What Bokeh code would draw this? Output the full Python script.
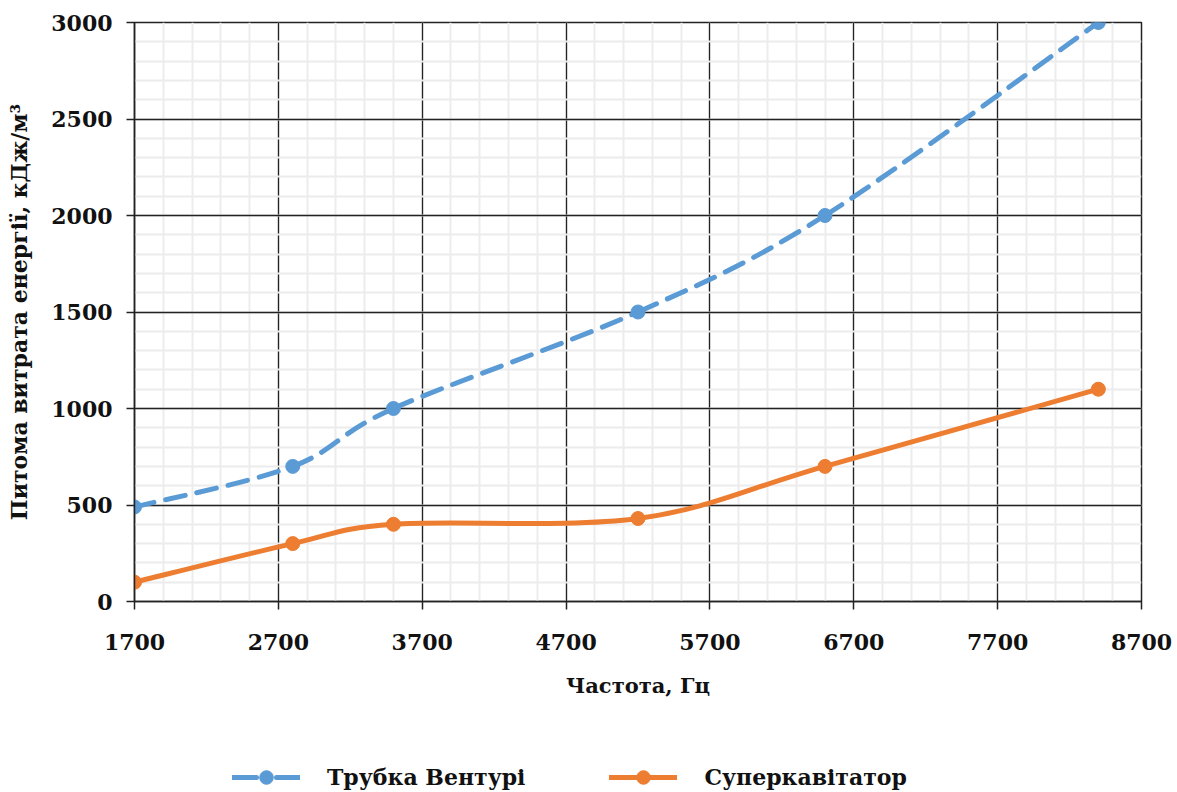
from bokeh.plotting import figure
from bokeh.layouts import column
from bokeh.models import Range1d, FixedTicker, Legend, LegendItem, ColumnDataSource
from bokeh.embed import file_html
from bokeh.resources import INLINE

# ---- data ----
venturi_freq = [1700, 2800, 3500, 5200, 6500, 8400]
venturi_energy = [490, 700, 1000, 1500, 2000, 3000]
super_freq = [1700, 2800, 3500, 5200, 6500, 8400]
super_energy = [100, 300, 400, 430, 700, 1100]
series_names = ["Трубка Вентурі", "Суперкавітатор"]
x_ticks = [1700, 2700, 3700, 4700, 5700, 6700, 7700, 8700]
y_ticks = [0, 500, 1000, 1500, 2000, 2500, 3000]
x_minor = list(range(1700, 8701, 200))
y_minor = list(range(0, 3001, 100))
x_title = "Частота, Гц"
y_title = "Питома витрата енергії, кДж/м³"

BLUE = "#5B9BD5"
ORANGE = "#ED7D31"
FONT = "DejaVu Serif"


def smooth_segments(xs, ys, t=1.0 / 6.0):
    """Bezier segments (Catmull-Rom style smoothing, like a smoothed line)."""
    n = len(xs)
    out = dict(x0=[], y0=[], x1=[], y1=[], cx0=[], cy0=[], cx1=[], cy1=[])
    for i in range(n - 1):
        xp = xs[i - 1] if i > 0 else xs[i]
        yp = ys[i - 1] if i > 0 else ys[i]
        xn = xs[i + 2] if i + 2 < n else xs[i + 1]
        yn = ys[i + 2] if i + 2 < n else ys[i + 1]
        out["x0"].append(xs[i]); out["y0"].append(ys[i])
        out["x1"].append(xs[i + 1]); out["y1"].append(ys[i + 1])
        out["cx0"].append(xs[i] + (xs[i + 1] - xp) * t)
        out["cy0"].append(ys[i] + (ys[i + 1] - yp) * t)
        out["cx1"].append(xs[i + 1] - (xn - xs[i]) * t)
        out["cy1"].append(ys[i + 1] - (yn - ys[i]) * t)
    return ColumnDataSource(out)


p = figure(width=1177, height=720, output_backend="svg", toolbar_location=None,
           x_range=Range1d(1700, 8700), y_range=Range1d(0, 3000),
           min_border_left=134, min_border_top=22, min_border_right=36,
           min_border_bottom=119)
p.background_fill_color = "white"
p.border_fill_color = "white"
p.outline_line_color = "#222222"
p.outline_line_width = 1.5

# axes
p.xaxis.ticker = FixedTicker(ticks=x_ticks, minor_ticks=x_minor)
p.yaxis.ticker = FixedTicker(ticks=y_ticks, minor_ticks=y_minor)
for ax in (p.xaxis, p.yaxis):
    ax.axis_line_color = "#222222"
    ax.axis_line_width = 1.5
    ax.major_tick_line_color = "#222222"
    ax.major_tick_line_width = 1.5
    ax.major_tick_out = 8
    ax.major_tick_in = 0
    ax.minor_tick_line_color = None
    ax.major_label_text_font = FONT
    ax.major_label_text_font_style = "bold"
    ax.major_label_text_font_size = "22px"
    ax.major_label_text_color = "#111111"
    ax.axis_label_text_font = FONT
    ax.axis_label_text_font_style = "bold"
    ax.axis_label_text_color = "#111111"

p.xaxis.major_label_standoff = 24
p.xaxis.axis_label = x_title
p.xaxis.axis_label_standoff = 20
p.xaxis.axis_label_text_font_size = "21px"
p.yaxis.major_label_standoff = 14
p.yaxis.axis_label = y_title
p.yaxis.axis_label_standoff = 16
p.yaxis.axis_label_text_font_size = "22px"

# grids
for g in (p.xgrid, p.ygrid):
    g.grid_line_color = "#222222"
    g.grid_line_width = 1.3
    g.minor_grid_line_color = "#ececec"
    g.minor_grid_line_width = 2
    g.level = "underlay"

# series
src_v = smooth_segments(venturi_freq, venturi_energy)
src_s = smooth_segments(super_freq, super_energy)
p.bezier("x0", "y0", "x1", "y1", "cx0", "cy0", "cx1", "cy1", source=src_v,
         line_color=BLUE, line_width=5, line_dash="20 12", line_cap="round")
p.scatter(venturi_freq, venturi_energy, size=14, color=BLUE)
p.bezier("x0", "y0", "x1", "y1", "cx0", "cy0", "cx1", "cy1", source=src_s,
         line_color=ORANGE, line_width=5, line_cap="round")
p.scatter(super_freq, super_energy, size=14, color=ORANGE)

# ---- legend strip (separate small figure, frame aligned with main one) ----
q = figure(width=1177, height=72, output_backend="svg", toolbar_location=None,
           x_range=Range1d(0, 1), y_range=Range1d(0, 1),
           min_border_left=0, min_border_right=0, min_border_top=0,
           min_border_bottom=0)
q.axis.visible = False
q.grid.visible = False
q.outline_line_color = None
q.background_fill_color = "white"
q.border_fill_color = "white"

# proxy renderers (placed outside the visible range; only used for legend glyphs)
off = [-5, -4]
lv = q.line(off, off, line_color=BLUE, line_width=5, line_dash="24 20",
            line_cap="round")
cv = q.scatter(off, off, size=14, color=BLUE)
ls = q.line(off, off, line_color=ORANGE, line_width=5, line_cap="round")
cs = q.scatter(off, off, size=14, color=ORANGE)

legend = Legend(items=[LegendItem(label=series_names[0], renderers=[lv, cv]),
                       LegendItem(label=series_names[1], renderers=[ls, cs])],
                orientation="horizontal", location=(98, -2),
                border_line_color=None, background_fill_alpha=0,
                glyph_width=68, glyph_height=34, label_standoff=27,
                spacing=84, padding=0, margin=0,
                label_text_font=FONT, label_text_font_style="bold",
                label_text_font_size="22px", label_text_color="#111111")
q.add_layout(legend, "center")

layout = column(p, q, spacing=0)
open("out.html", "w").write(file_html(layout, INLINE))
